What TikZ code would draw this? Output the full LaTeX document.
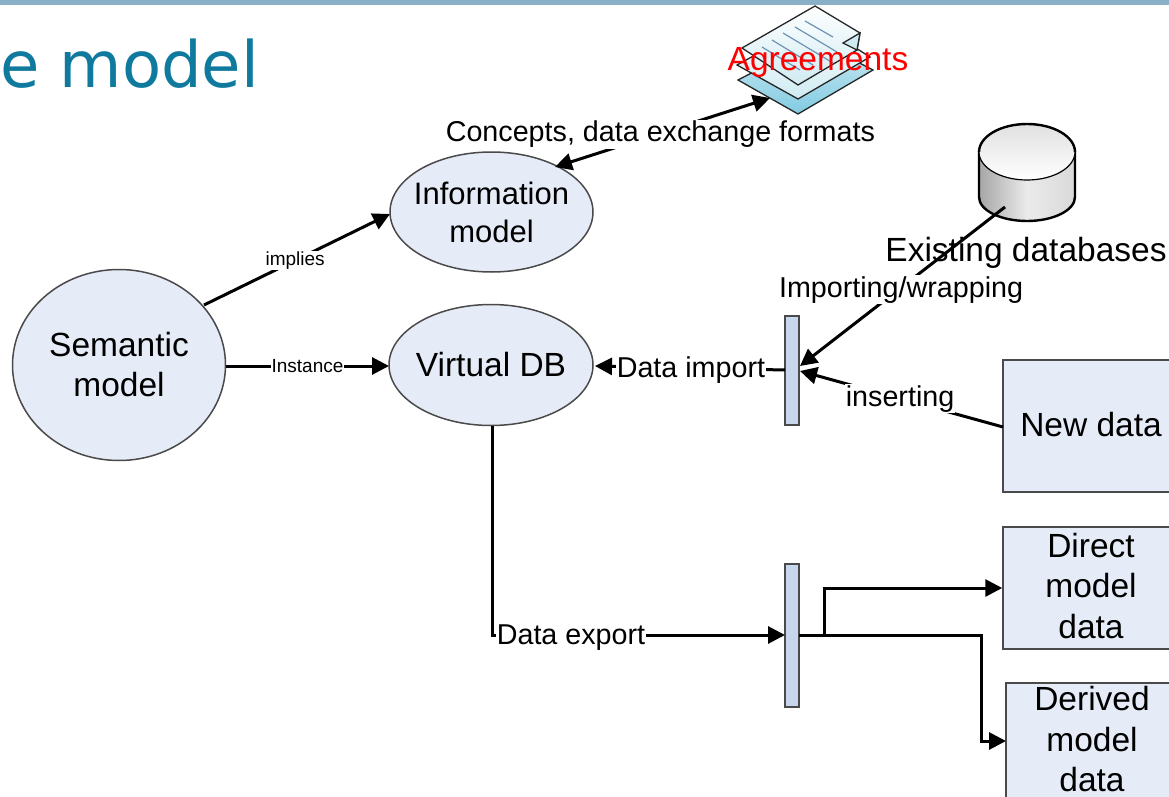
\documentclass[tikz,border=0pt]{standalone}
\usepackage{fontspec}
\setmainfont{Liberation Sans}
\newfontfamily\titlefont{DejaVu Sans}
\usetikzlibrary{arrows.meta,calc,shapes.geometric}
\definecolor{nodefill}{HTML}{E6ECF7}
\definecolor{barfill}{HTML}{C8D6EC}
\definecolor{titleblue}{HTML}{0F7A9E}
\definecolor{topbar}{HTML}{8AB0C8}
\definecolor{edgegrey}{HTML}{4A4A4A}
\definecolor{sheetpale}{HTML}{CFEBF2}
\definecolor{sheetdeep}{HTML}{82CBE2}
\definecolor{sheetline}{HTML}{6F93B5}
\tikzset{
  x=1pt,y=-1pt,
  shapeline/.style={draw=edgegrey,line width=1.5pt,fill=nodefill},
  bubble/.style={shapeline,ellipse,align=center,inner sep=-22pt,font=\fontsize{33.5}{40}\selectfont},
  databox/.style={shapeline,rectangle,inner sep=0pt},
  boxtext/.style={align=center,inner sep=0pt,font=\fontsize{33.5}{40.5}\selectfont},
  barbox/.style={draw=edgegrey,line width=1.5pt,fill=barfill,rectangle,inner sep=0pt},
  conn/.style={draw=black,line width=3pt},
  arr/.style={conn,-{Triangle[length=17pt,width=17pt]}},
  big/.style={font=\fontsize{28.7}{33}\selectfont,inner sep=1pt},
  biglabel/.style={big,fill=white},
  small/.style={font=\fontsize{19}{22}\selectfont,inner sep=1pt,fill=white},
  sheet/.style={draw=black!85,line width=1.3pt},
}
\begin{document}
\begin{tikzpicture}
\useasboundingbox (0,0) rectangle (1169,797);
\clip (0,0) rectangle (1169,797);
\fill[topbar] (0,0) rectangle (1169,5);
\node[anchor=base west,inner sep=0pt,text=titleblue,font=\titlefont\fontsize{64}{70}\selectfont] (title) at (0,88) {e model};

% shapes
\node[bubble,minimum width=213pt,minimum height=191pt] (sem) at (119,365) {Semantic\\model};
\node[bubble,minimum width=203pt,minimum height=120pt,font=\fontsize{31}{38}\selectfont] (info) at (491.5,212) {Information\\model};
\node[bubble,minimum width=204pt,minimum height=121pt] (vdb) at (491,365) {Virtual DB};
\node[barbox,minimum width=14pt,minimum height=109pt] (bar1) at (792,370.5) {};
\node[barbox,minimum width=14pt,minimum height=143pt] (bar2) at (792,635.5) {};
\node[databox,minimum width=172pt,minimum height=132pt] (new) at (1089,426) {};
\node[databox,minimum width=172pt,minimum height=122pt] (direct) at (1089,588) {};
\node[databox,minimum width=172pt,minimum height=118pt] (derived) at (1092,742) {};
\node[boxtext] (newtxt) at (1091,425) {New data};
\node[boxtext] (directtxt) at (1091,586) {Direct\\model\\data};
\node[boxtext] (derivedtxt) at (1092,739.5) {Derived\\model\\data};

% agreements icon
\path[sheet,top color=sheetpale,bottom color=sheetdeep]
  (738,80) -- (815,40) -- (873,70) -- (798,114) -- cycle;
\path[sheet,top color=white,bottom color=sheetpale]
  (737,65) -- (815,22) -- (870,57) -- (798,99) -- cycle;
\path[sheet,top color=white,bottom color=sheetpale]
  (742,48) -- (815,6) -- (860,33) -- (857,50) -- (798,85) -- cycle;
\path[sheet,fill=sheetpale] (860,33) -- (843,43) -- (857,50) -- cycle;
\foreach \a/\b/\c/\d in {805/21/833/37,795/27/837/52,783/33/833/63,772/40/813/65,762/47/800/70}
  \draw[line width=1.2pt,color=sheetline] (\a,\b) -- (\c,\d);
\coordinate (agr) at (770,98);

% cylinder
\path[left color=black!35,right color=black!15,middle color=white!92!black,draw=black,line width=2.4pt]
  (979,152) -- (979,197) arc[start angle=180,end angle=0,x radius=48,y radius=24] -- (1075,152) -- cycle;
\path[top color=black!12,bottom color=white,draw=black,line width=1.2pt]
  (1027,152) ellipse[x radius=48,y radius=28];
\draw[black,line width=2.4pt] (979,152) arc[start angle=180,end angle=360,x radius=48,y radius=28];
\coordinate (dbfoot) at (1005,207);

\node[big,font=\fontsize{33.5}{36}\selectfont] (existing) at (1026,253) {Existing databases};

% connectors
\coordinate (semA) at (204,305);
\coordinate (infoW) at (390,214);
\draw[arr] (semA) -- (infoW) node[small,pos=.49] (impl) {implies};
\coordinate (semE) at (226,366);
\coordinate (vdbW) at (389,366);
\draw[arr] (semE) -- (vdbW) node[small,pos=.5] (inst) {Instance};
\draw[conn,{Triangle[length=17pt,width=17pt]}-{Triangle[length=17pt,width=17pt]}] (555,167) -- (agr)
  node[biglabel,pos=.49,yshift=-1pt] (conc) {Concepts, data exchange formats};
\coordinate (bar1in) at (800,366);
\draw[arr] (dbfoot) -- (bar1in) node[biglabel,pos=.507,yshift=-2pt] (imp) {Importing/wrapping};
\coordinate (newW) at (1003,427);
\coordinate (bar1in2) at (800,371);
\draw[arr] (newW) -- (bar1in2) node[biglabel,pos=.507] (ins) {inserting};
\coordinate (bar1w) at (785,370);
\coordinate (vdbE) at (595,366);
\draw[arr] (bar1w) -- (vdbE) node[biglabel,pos=.495,yshift=-2pt] (dimp) {Data import};
\coordinate (bar2w) at (785,635);
\coordinate (vdbfoot) at (492,426);
\coordinate (vdbcorner) at (492,635);
\draw[arr] (vdbfoot) -- (vdbcorner) -- (bar2w);
\node[biglabel] (dexp) at (571,638) {Data export};
\coordinate (bar2e) at (799,635);
\coordinate (j1) at (824,635);
\coordinate (j2) at (824,588);
\coordinate (j3) at (981,635);
\coordinate (j4) at (981,741);
\coordinate (derw) at (1006,741);
\draw[arr] (bar2e) -- (j1) -- (j2) -- (direct.west);
\draw[arr] (bar2e) -- (j3) -- (j4) -- (derw);

\node[text=red,font=\fontsize{33.5}{36}\selectfont,inner sep=0pt] (agrtxt) at (818,62) {Agreements};
\end{tikzpicture}
\end{document}
